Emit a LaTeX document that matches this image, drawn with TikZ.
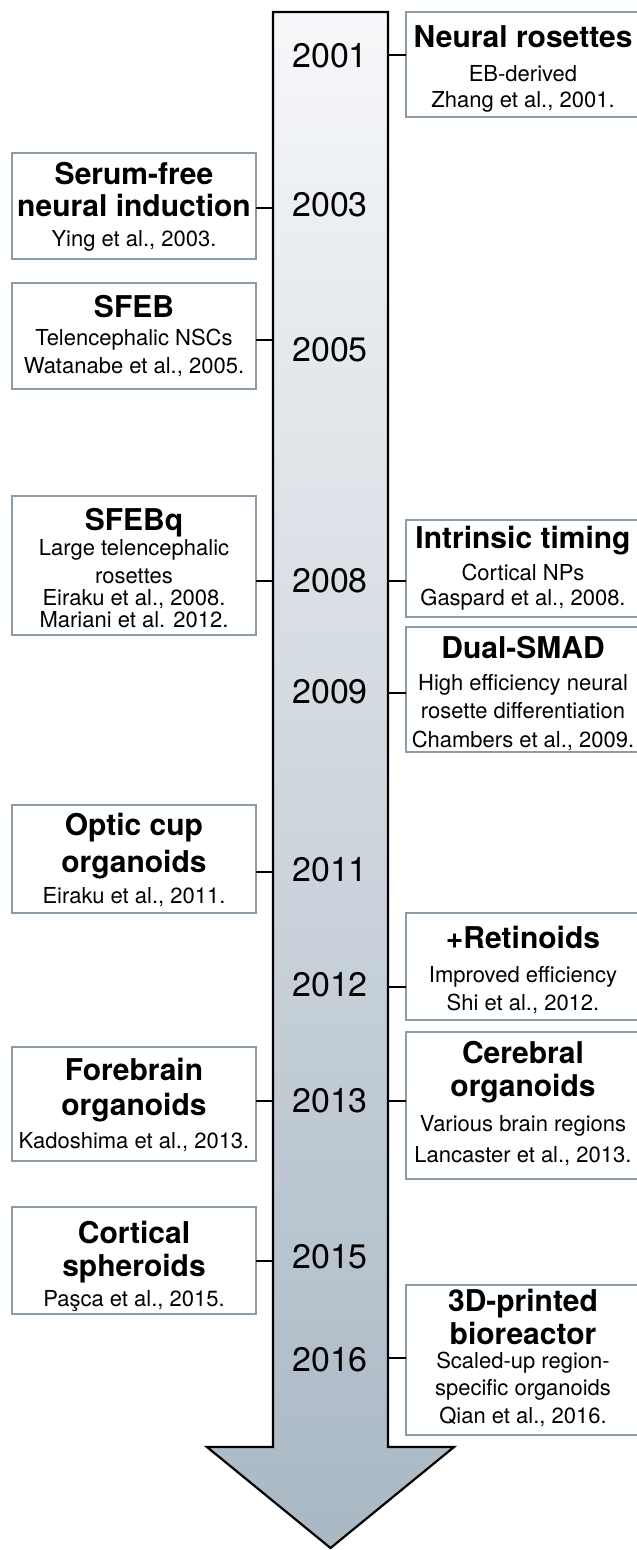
\documentclass[tikz,border=0pt]{standalone}
\usepackage{fontspec}
\setmainfont{TeX Gyre Heros}
\definecolor{boxc}{HTML}{8B9BA7}
\definecolor{shtop}{HTML}{F6F7F9}
\definecolor{shbot}{HTML}{A9B8C4}
\newcommand\TT[1]{{\fontsize{30}{0}\selectfont\bfseries #1}}
\newcommand\txtfont{\fontsize{22}{0}\selectfont\lineskiplimit=-1000pt\relax\lineskip=0pt\relax\parskip=0pt\relax}
\newcommand\firststrut{\leavevmode\vrule width 0pt height 24pt depth 0pt\relax}
\begin{document}
\begin{tikzpicture}[x=1pt,y=-1pt,
  lbox/.style={draw=boxc, line width=2pt, fill=white, inner sep=0pt, outer sep=0pt, minimum width=244pt},
  rbox/.style={draw=boxc, line width=2pt, fill=white, inner sep=0pt, outer sep=0pt, minimum width=234pt},
  txt/.style={inner sep=0pt, outer sep=0pt, align=center, anchor=north, font=\txtfont},
  yr/.style={font=\fontsize{34}{40}\selectfont, inner sep=0pt},
  conn/.style={line width=1.6pt, black}]
\useasboundingbox (0,0) rectangle (637,1550);
% arrow
\path[draw=black, line width=2.2pt, line join=miter, top color=shtop, bottom color=shbot]
  (273,12) -- (388,12) -- (388,1447) -- (454,1447) -- (330.5,1548) -- (207,1447) -- (273,1447) -- cycle;
\coordinate (sL) at (273,0);
\coordinate (sR) at (388,0);
% years
\node[yr] (y01) at (330,56) {2001};
\node[yr] (y03) at (330,205) {2003};
\node[yr] (y05) at (330,350) {2005};
\node[yr] (y08) at (330,581) {2008};
\node[yr] (y09) at (330,692) {2009};
\node[yr] (y11) at (330,870) {2011};
\node[yr] (y12) at (330,985) {2012};
\node[yr] (y13) at (330,1101) {2013};
\node[yr] (y15) at (330,1257) {2015};
\node[yr] (y16) at (330,1360) {2016};
% connector heights
\coordinate (k01) at (330,55);
\coordinate (k03) at (330,208);
\coordinate (k05) at (330,340);
\coordinate (k08) at (330,581);
\coordinate (k09) at (330,693);
\coordinate (k11) at (330,872);
\coordinate (k12) at (330,987);
\coordinate (k13) at (330,1101);
\coordinate (k15) at (330,1261);
\coordinate (k16) at (330,1358);
% boxes
\node[rbox, minimum height=105pt] (r01) at (523,64.5) {};
\node[txt] (tr01) at ([yshift=-11pt]r01.north) {\firststrut\TT{Neural rosettes}\\[34pt]EB-derived\\[26pt]Zhang et al., 2001.};
\node[lbox, minimum height=106pt] (l03) at (134,206) {};
\node[txt] (tl03) at ([yshift=-7pt]l03.north) {\firststrut\TT{Serum-free}\\[32pt]\TT{neural induction}\\[30pt]Ying et al., 2003.};
\node[lbox, minimum height=106pt] (l05) at (134,336) {};
\node[txt] (tl05) at ([yshift=-10pt]l05.north) {\firststrut\TT{SFEB}\\[28pt]Telencephalic NSCs\\[28pt]Watanabe et al., 2005.};
\node[lbox, minimum height=139pt] (l08) at (134,565.5) {};
\node[txt] (tl08) at ([yshift=-10pt]l08.north) {\firststrut\TT{SFEBq}\\[25pt]Large telencephalic\\[28pt]rosettes\\[22pt]Eiraku et al., 2008.\\[22pt]Mariani et al. 2012.};
\node[rbox, minimum height=97pt] (r08) at (523,568.5) {};
\node[txt] (tr08) at ([yshift=-4pt]r08.north) {\firststrut\TT{Intrinsic timing}\\[32pt]Cortical NPs\\[25pt]Gaspard et al., 2008.};
\node[rbox, minimum height=125pt] (r09) at (523,689.5) {};
\node[txt] (tr09) at ([yshift=-7pt]r09.north) {\firststrut\TT{Dual-SMAD}\\[32pt]High efficiency neural\\[28pt]rosette differentiation\\[29pt]Chambers et al., 2009.};
\node[lbox, minimum height=108pt] (l11) at (134,859) {};
\node[txt] (tl11) at ([yshift=-6pt]l11.north) {\firststrut\TT{Optic cup}\\[37pt]\TT{organoids}\\[31pt]Eiraku et al., 2011.};
\node[rbox, minimum height=107pt] (r12) at (523,966.5) {};
\node[txt] (tr12) at ([yshift=-11pt]r12.north) {\firststrut\TT{+Retinoids}\\[34pt]Improved efficiency\\[28pt]Shi et al., 2012.};
\node[lbox, minimum height=114pt] (l13) at (134,1104) {};
\node[txt] (tl13) at ([yshift=-9pt]l13.north) {\firststrut\TT{Forebrain}\\[35pt]\TT{organoids}\\[33pt]Kadoshima et al., 2013.};
\node[rbox, minimum height=147pt] (r13) at (523,1105.5) {};
\node[txt] (tr13) at ([yshift=-7pt]r13.north) {\firststrut\TT{Cerebral}\\[33pt]\TT{organoids}\\[35pt]Various brain regions\\[31pt]Lancaster et al., 2013.};
\node[lbox, minimum height=107pt] (l15) at (134,1260.5) {};
\node[txt] (tl15) at ([yshift=-12pt]l15.north) {\firststrut\TT{Cortical}\\[33pt]\TT{spheroids}\\[30pt]Paşca et al., 2015.};
\node[rbox, minimum height=150pt] (r16) at (523,1360) {};
\node[txt] (tr16) at ([yshift=-2pt]r16.north) {\firststrut\TT{3D-printed}\\[33pt]\TT{bioreactor}\\[24pt]Scaled-up region-\\[27pt]specific organoids\\[28pt]Qian et al., 2016.};
% connectors
\draw[conn] (k01 -| sR) -- (k01 -| r01.west);
\draw[conn] (k03 -| l03.east) -- (k03 -| sL);
\draw[conn] (k05 -| l05.east) -- (k05 -| sL);
\draw[conn] (k08 -| l08.east) -- (k08 -| sL);
\draw[conn] (k08 -| sR) -- (k08 -| r08.west);
\draw[conn] (k09 -| sR) -- (k09 -| r09.west);
\draw[conn] (k11 -| l11.east) -- (k11 -| sL);
\draw[conn] (k12 -| sR) -- (k12 -| r12.west);
\draw[conn] (k13 -| l13.east) -- (k13 -| sL);
\draw[conn] (k13 -| sR) -- (k13 -| r13.west);
\draw[conn] (k15 -| l15.east) -- (k15 -| sL);
\draw[conn] (k16 -| sR) -- (k16 -| r16.west);
\end{tikzpicture}
\end{document}
